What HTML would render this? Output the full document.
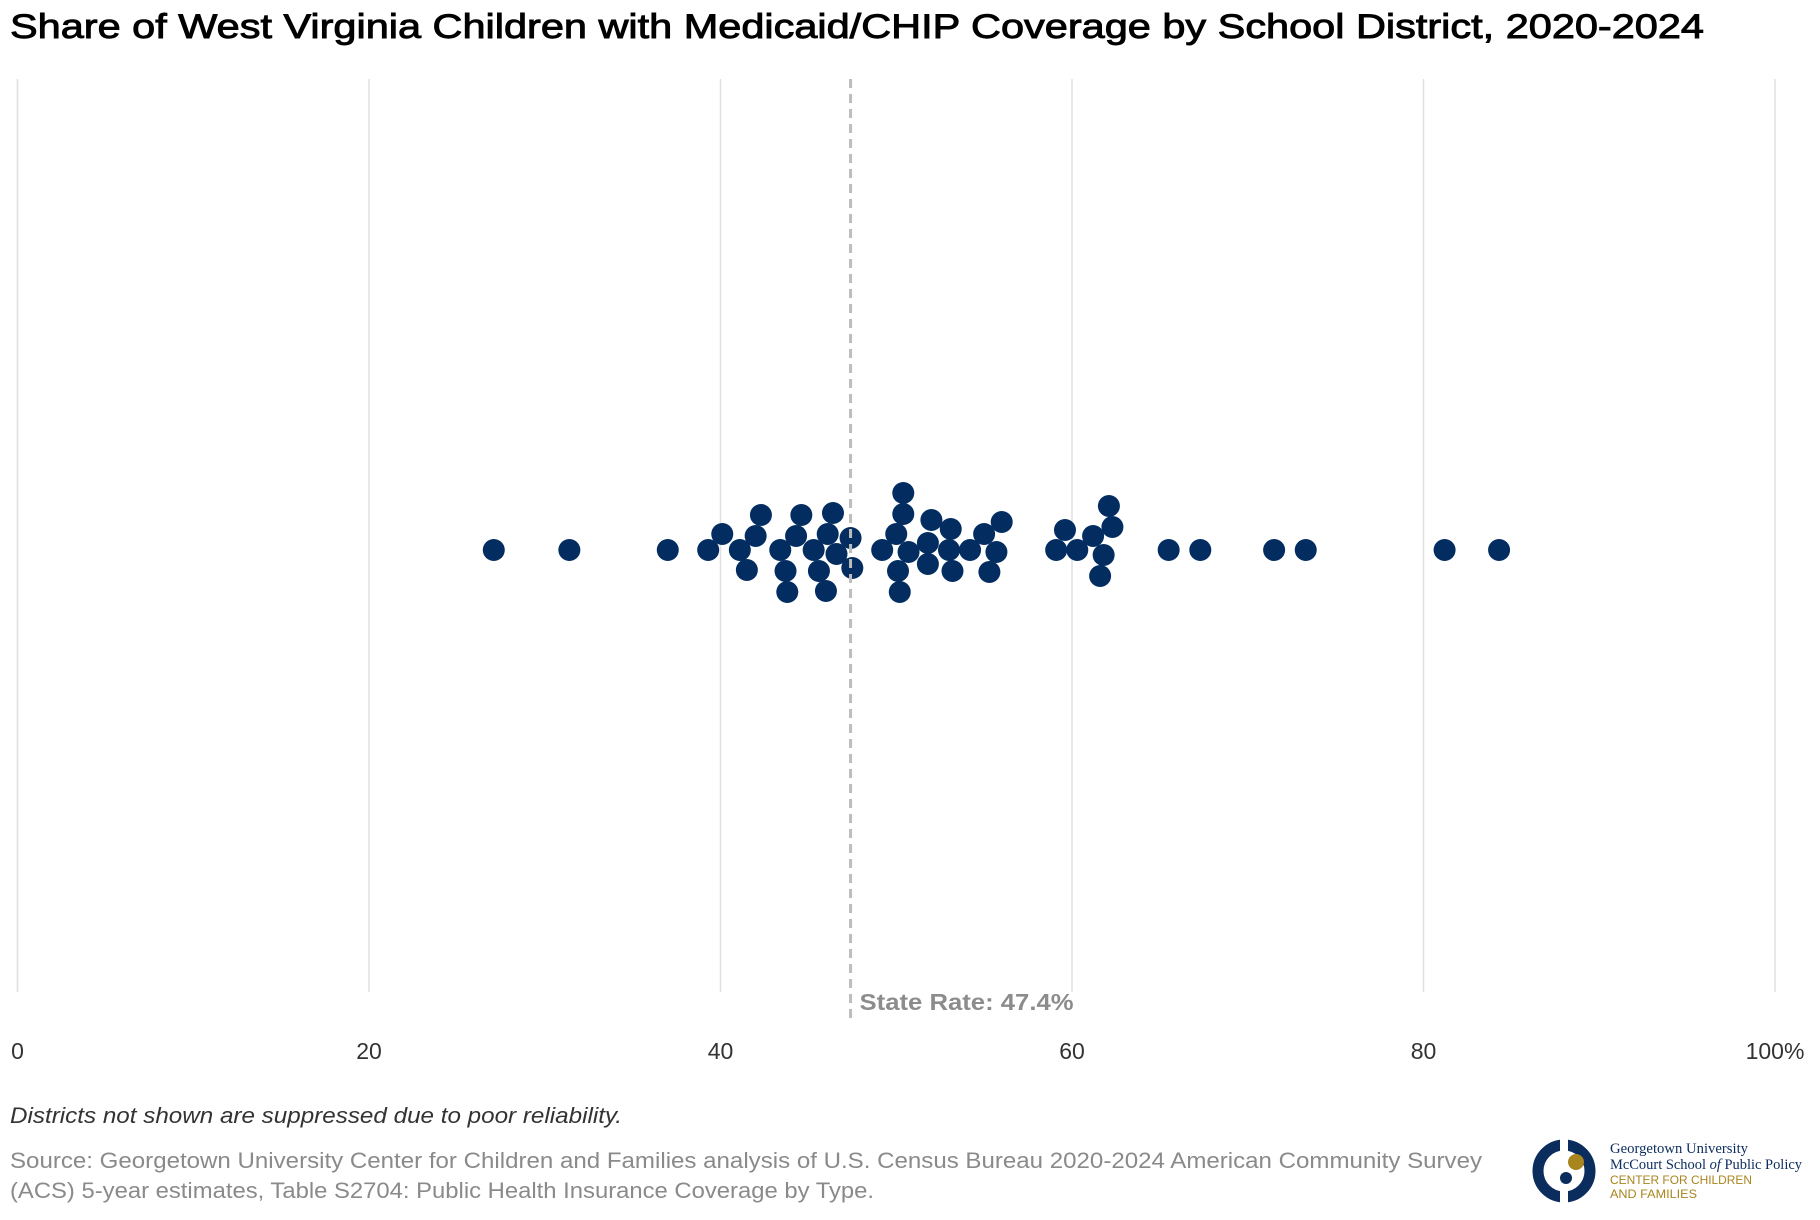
<!DOCTYPE html>
<html><head><meta charset="utf-8"><style>
html,body{margin:0;padding:0;background:#fff;}
svg{display:block;font-family:"Liberation Sans",Arial,sans-serif;}
</style></head><body>
<svg id="chart" width="1820" height="1220" viewBox="0 0 1820 1220">
<text x="10" y="38" font-size="34" fill="#000" stroke="#000" stroke-width="0.9" textLength="1694" lengthAdjust="spacingAndGlyphs">Share of West Virginia Children with Medicaid/CHIP Coverage by School District, 2020-2024</text>
<g id="grid"></g>
<g id="ticks"></g>
<g id="dots"></g>
<g id="ref"></g>
<text x="10" y="1123" font-size="22" font-style="italic" fill="#333" textLength="612" lengthAdjust="spacingAndGlyphs">Districts not shown are suppressed due to poor reliability.</text>
<text x="10" y="1168" font-size="22" fill="#8a8a8a" textLength="1472" lengthAdjust="spacingAndGlyphs">Source: Georgetown University Center for Children and Families analysis of U.S. Census Bureau 2020-2024 American Community Survey</text>
<text x="10" y="1198" font-size="22" fill="#8a8a8a" textLength="864" lengthAdjust="spacingAndGlyphs">(ACS) 5-year estimates, Table S2704: Public Health Insurance Coverage by Type.</text>
<g>
<circle cx="1564" cy="1171" r="26" fill="none" stroke="#0b2d5e" stroke-width="11"/>
<rect x="1560" y="1138" width="8" height="66" fill="#fff"/>
<circle cx="1576" cy="1162" r="8" fill="#a8851e"/>
<circle cx="1566" cy="1178" r="6" fill="#0b2d5e"/>
<text x="1610" y="1153" font-family="'Liberation Serif',serif" font-size="15" fill="#0b2d5e" textLength="138" lengthAdjust="spacingAndGlyphs">Georgetown University</text>
<text x="1610" y="1169" font-family="'Liberation Serif',serif" font-size="15" fill="#0b2d5e" textLength="192" lengthAdjust="spacingAndGlyphs">McCourt School <tspan font-style="italic">of</tspan> Public Policy</text>
<text x="1610" y="1184" font-size="12" fill="#a8851e" textLength="142" lengthAdjust="spacingAndGlyphs">CENTER FOR CHILDREN</text>
<text x="1610" y="1198" font-size="12" fill="#a8851e" textLength="87" lengthAdjust="spacingAndGlyphs">AND FAMILIES</text>
</g>
</svg>
<script>
const values = [27.1,31.4,37.0,39.3,40.1,41.1,42.0,43.4,44.3,45.3,46.1,46.6,49.2,50.0,50.7,51.8,53.0,54.2,55.0,55.7,59.1,60.3,61.2,61.8,62.3,65.5,67.3,71.5,73.3,81.2,84.3,
41.5,42.3,43.7,44.6,45.6,46.4,47.4,50.1,50.4,51.8,53.1,55.3,56.0,59.6,61.6,
43.8,46.0,47.5,50.2,50.4,52.0,53.2,62.1];
const tickValues = [0,20,40,60,80,100];
const tickLabels = ["0","20","40","60","80","100%"];
const stateRate = [47.4];
const NS="http://www.w3.org/2000/svg";
const x0=17.5,x1=1775,yTop=79,yBot=992,cy=550,R=11;
function xs(v){return x0+(x1-x0)*v/100;}
function mk(t,a){const e=document.createElementNS(NS,t);for(const k in a)e.setAttribute(k,a[k]);return e;}
const grid=document.getElementById('grid'),ticks=document.getElementById('ticks');
tickValues.forEach((t,i)=>{
  const l=mk('line',{x1:xs(t),x2:xs(t),y1:yTop,y2:yBot,stroke:'#e0e0e0','stroke-width':1.5});
  
  
  grid.appendChild(l);
  const tx=mk('text',{x:xs(t),y:1059,'font-size':23,fill:'#333','text-anchor':'middle'});
  tx.textContent=tickLabels[i];
  
  
  ticks.appendChild(tx);
});
const ref=document.getElementById('ref');
const rl=mk('line',{x1:xs(stateRate[0]),x2:xs(stateRate[0]),y1:yTop,y2:1023,stroke:'#bdbdbd','stroke-width':3,'stroke-dasharray':'9,6'});


ref.appendChild(rl);
const rt=mk('text',{x:xs(stateRate[0])+9,y:1010,'font-size':23,'font-weight':'bold',fill:'#8c8c8c',textLength:214,lengthAdjust:'spacingAndGlyphs'});
rt.textContent='State Rate: '+stateRate[0]+'%';


ref.appendChild(rt);
// greedy beeswarm in data order, allowing partial overlap
const placed=[];
const D=21;
values.forEach(v=>{
  const px=xs(v);let best=0;
  for(let k=0;k<400;k++){
    const o=(k%2?-1:1)*Math.ceil(k/2);
    let ok=true;
    for(const q of placed){const dx=q.x-px,dy=q.y-(cy+o);if(dx*dx+dy*dy<D*D){ok=false;break;}}
    if(ok){best=o;break;}
  }
  placed.push({x:px,y:cy+best});
});
const dots=document.getElementById('dots');
placed.forEach(p=>{
  const c=mk('circle',{cx:p.x,cy:p.y,r:R,fill:'#032d61'});
  
  
  dots.appendChild(c);
});
</script>
</body></html>
